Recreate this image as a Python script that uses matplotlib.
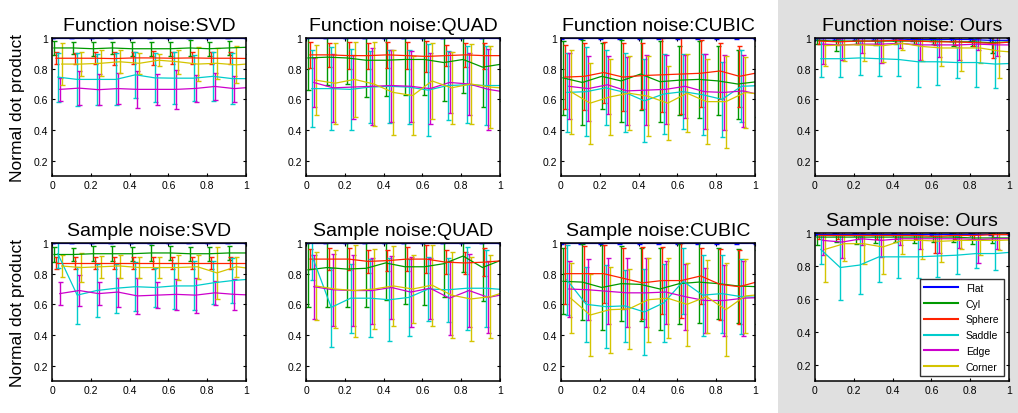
import numpy as np
import matplotlib
matplotlib.use("Agg")
from matplotlib import pyplot as plt
from matplotlib.patches import Rectangle

plt.rcParams['font.family'] = ['Liberation Sans', 'DejaVu Sans']

#%% data
shapes = ["Flat", "Cyl", "Sphere", "Saddle", "Edge", "Corner"]
colors = ["#0000ff", "#009900", "#ff2200", "#00cccc", "#cc00cc", "#d4c400"]
noise_levels = [0.0, 0.1, 0.2, 0.3, 0.4, 0.5, 0.6, 0.7, 0.8, 0.9, 1.0]
titles = ["Function noise:SVD", "Function noise:QUAD", "Function noise:CUBIC", "Function noise: Ours",
          "Sample noise:SVD", "Sample noise:QUAD", "Sample noise:CUBIC", "Sample noise: Ours"]

# rows: Flat, Cyl, Sphere, Saddle, Edge, Corner
fn_svd_mean = [
    [1.0]*11,
    [0.935, 0.935, 0.93, 0.935, 0.93, 0.93, 0.93, 0.935, 0.93, 0.935, 0.94],
    [0.868, 0.868, 0.868, 0.866, 0.87, 0.87, 0.868, 0.87, 0.868, 0.868, 0.866],
    [0.745, 0.73, 0.73, 0.73, 0.76, 0.74, 0.738, 0.738, 0.75, 0.735, 0.735],
    [0.665, 0.673, 0.663, 0.67, 0.665, 0.665, 0.665, 0.671, 0.684, 0.67, 0.68],
    [0.83, 0.83, 0.835, 0.845, 0.835, 0.855, 0.845, 0.83, 0.835, 0.825, 0.835]]
fn_svd_err = [
    [0.002]*11,
    [0.045, 0.04, 0.045, 0.04, 0.045, 0.045, 0.045, 0.05, 0.045, 0.045, 0.045],
    [0.04, 0.035, 0.04, 0.04, 0.04, 0.045, 0.04, 0.04, 0.04, 0.04, 0.04],
    [0.16, 0.175, 0.165, 0.17, 0.15, 0.16, 0.17, 0.15, 0.16, 0.165, 0.16],
    [0.075, 0.11, 0.1, 0.1, 0.12, 0.1, 0.125, 0.09, 0.09, 0.085, 0.09],
    [0.135, 0.08, 0.085, 0.075, 0.07, 0.04, 0.08, 0.11, 0.1, 0.12, 0.1]]

fn_quad_mean = [
    [1.0]*11,
    [0.87, 0.875, 0.87, 0.855, 0.855, 0.86, 0.86, 0.84, 0.86, 0.81, 0.83],
    [0.89, 0.89, 0.885, 0.885, 0.89, 0.885, 0.88, 0.885, 0.89, 0.885, 0.885],
    [0.67, 0.67, 0.665, 0.68, 0.685, 0.68, 0.66, 0.69, 0.695, 0.69, 0.69],
    [0.71, 0.675, 0.68, 0.685, 0.69, 0.685, 0.67, 0.71, 0.7, 0.665, 0.645],
    [0.725, 0.705, 0.73, 0.7, 0.645, 0.625, 0.72, 0.675, 0.7, 0.68, 0.67]]
fn_quad_err = [
    [0.002]*11,
    [0.21, 0.18, 0.17, 0.24, 0.23, 0.23, 0.23, 0.25, 0.22, 0.26, 0.24],
    [0.085, 0.08, 0.09, 0.085, 0.085, 0.09, 0.1, 0.07, 0.08, 0.085, 0.085],
    [0.25, 0.27, 0.265, 0.235, 0.24, 0.24, 0.3, 0.225, 0.25, 0.255, 0.25],
    [0.16, 0.22, 0.21, 0.25, 0.235, 0.23, 0.23, 0.2, 0.2, 0.265, 0.25],
    [0.23, 0.265, 0.245, 0.275, 0.275, 0.255, 0.25, 0.235, 0.26, 0.265, 0.26]]

fn_cubic_mean = [
    [1.0]*11,
    [0.74, 0.71, 0.75, 0.72, 0.765, 0.715, 0.725, 0.73, 0.72, 0.7, 0.715],
    [0.745, 0.75, 0.775, 0.745, 0.755, 0.76, 0.765, 0.77, 0.785, 0.75, 0.775],
    [0.645, 0.65, 0.675, 0.645, 0.59, 0.635, 0.65, 0.63, 0.6, 0.685, 0.69],
    [0.685, 0.67, 0.695, 0.655, 0.66, 0.665, 0.685, 0.65, 0.645, 0.655, 0.625],
    [0.65, 0.575, 0.615, 0.64, 0.62, 0.575, 0.64, 0.585, 0.585, 0.645, 0.63]]
fn_cubic_err = [
    [0.005]*11,
    [0.24, 0.28, 0.215, 0.27, 0.235, 0.265, 0.225, 0.25, 0.225, 0.225, 0.23],
    [0.21, 0.22, 0.2, 0.22, 0.215, 0.24, 0.26, 0.22, 0.18, 0.2, 0.2],
    [0.26, 0.29, 0.245, 0.255, 0.27, 0.26, 0.245, 0.265, 0.245, 0.235, 0.24],
    [0.215, 0.21, 0.19, 0.22, 0.23, 0.225, 0.205, 0.245, 0.245, 0.235, 0.23],
    [0.275, 0.265, 0.25, 0.24, 0.26, 0.24, 0.255, 0.275, 0.3, 0.23, 0.25]]

fn_ours_mean = [
    [0.995, 0.995, 0.995, 0.995, 0.995, 0.99, 0.99, 0.99, 0.99, 0.985, 0.985],
    [0.985, 0.98, 0.98, 0.98, 0.98, 0.98, 0.98, 0.975, 0.975, 0.97, 0.975],
    [0.98, 0.975, 0.98, 0.98, 0.985, 0.98, 0.975, 0.975, 0.97, 0.965, 0.975],
    [0.865, 0.865, 0.87, 0.865, 0.86, 0.845, 0.845, 0.84, 0.84, 0.83, 0.835],
    [0.96, 0.955, 0.96, 0.96, 0.965, 0.955, 0.955, 0.955, 0.96, 0.955, 0.955],
    [0.95, 0.955, 0.955, 0.95, 0.965, 0.945, 0.935, 0.935, 0.935, 0.915, 0.905]]
fn_ours_err = [
    [0.008, 0.008, 0.01, 0.008, 0.008, 0.01, 0.01, 0.01, 0.01, 0.012, 0.01],
    [0.025, 0.065, 0.02, 0.025, 0.02, 0.02, 0.02, 0.03, 0.03, 0.07, 0.03],
    [0.02, 0.02, 0.02, 0.02, 0.015, 0.02, 0.02, 0.02, 0.02, 0.095, 0.02],
    [0.12, 0.12, 0.11, 0.11, 0.11, 0.165, 0.15, 0.1, 0.16, 0.155, 0.15],
    [0.13, 0.1, 0.06, 0.125, 0.03, 0.1, 0.08, 0.1, 0.04, 0.07, 0.07],
    [0.135, 0.105, 0.105, 0.105, 0.04, 0.095, 0.115, 0.15, 0.095, 0.175, 0.15]]

sn_svd_mean = [
    [1.0]*11,
    [0.925, 0.925, 0.93, 0.93, 0.93, 0.935, 0.935, 0.93, 0.93, 0.935, 0.935],
    [0.87, 0.87, 0.87, 0.87, 0.87, 0.87, 0.87, 0.87, 0.87, 0.87, 0.87],
    [0.93, 0.66, 0.69, 0.705, 0.715, 0.71, 0.72, 0.72, 0.74, 0.755, 0.765],
    [0.67, 0.69, 0.67, 0.68, 0.655, 0.66, 0.665, 0.66, 0.675, 0.665, 0.66],
    [0.85, 0.84, 0.845, 0.85, 0.84, 0.84, 0.84, 0.845, 0.805, 0.845, 0.83]]
sn_svd_err = [
    [0.002]*11,
    [0.05, 0.045, 0.05, 0.05, 0.045, 0.05, 0.045, 0.045, 0.045, 0.045, 0.045],
    [0.04, 0.04, 0.04, 0.04, 0.04, 0.04, 0.04, 0.04, 0.04, 0.04, 0.04],
    [0.09, 0.185, 0.17, 0.16, 0.16, 0.13, 0.15, 0.16, 0.14, 0.145, 0.14],
    [0.075, 0.1, 0.075, 0.095, 0.12, 0.085, 0.1, 0.115, 0.08, 0.1, 0.1],
    [0.07, 0.095, 0.07, 0.075, 0.07, 0.07, 0.08, 0.08, 0.17, 0.065, 0.07]]

sn_quad_mean = [
    [1.0]*11,
    [0.825, 0.84, 0.83, 0.835, 0.87, 0.845, 0.845, 0.865, 0.915, 0.84, 0.89],
    [0.895, 0.895, 0.895, 0.88, 0.885, 0.895, 0.895, 0.875, 0.87, 0.875, 0.885],
    [0.92, 0.58, 0.64, 0.64, 0.63, 0.645, 0.7, 0.695, 0.705, 0.705, 0.695],
    [0.715, 0.695, 0.69, 0.69, 0.71, 0.68, 0.705, 0.64, 0.69, 0.645, 0.67],
    [0.72, 0.7, 0.69, 0.7, 0.72, 0.7, 0.725, 0.66, 0.635, 0.65, 0.69]]
sn_quad_err = [
    [0.002]*11,
    [0.24, 0.26, 0.245, 0.25, 0.24, 0.245, 0.25, 0.215, 0.105, 0.215, 0.2],
    [0.065, 0.07, 0.07, 0.075, 0.07, 0.08, 0.09, 0.08, 0.07, 0.09, 0.08],
    [0.16, 0.26, 0.225, 0.255, 0.27, 0.25, 0.21, 0.21, 0.27, 0.25, 0.25],
    [0.21, 0.235, 0.23, 0.215, 0.205, 0.23, 0.2, 0.24, 0.24, 0.235, 0.23],
    [0.22, 0.255, 0.3, 0.26, 0.26, 0.22, 0.265, 0.28, 0.275, 0.27, 0.26]]

sn_cubic_mean = [
    [1.0]*11,
    [0.75, 0.745, 0.71, 0.735, 0.73, 0.7, 0.735, 0.745, 0.735, 0.72, 0.715],
    [0.8, 0.8, 0.8, 0.77, 0.74, 0.755, 0.755, 0.785, 0.73, 0.715, 0.75],
    [0.76, 0.6, 0.585, 0.59, 0.55, 0.61, 0.75, 0.66, 0.67, 0.65, 0.645],
    [0.7, 0.695, 0.685, 0.675, 0.675, 0.68, 0.65, 0.625, 0.625, 0.64, 0.645],
    [0.64, 0.53, 0.565, 0.57, 0.63, 0.64, 0.6, 0.65, 0.565, 0.655, 0.665]]
sn_cubic_err = [
    [0.005]*11,
    [0.215, 0.25, 0.28, 0.245, 0.24, 0.27, 0.26, 0.265, 0.23, 0.24, 0.24],
    [0.2, 0.18, 0.19, 0.2, 0.235, 0.22, 0.245, 0.185, 0.23, 0.24, 0.22],
    [0.23, 0.245, 0.27, 0.235, 0.28, 0.255, 0.215, 0.265, 0.255, 0.245, 0.25],
    [0.18, 0.2, 0.215, 0.225, 0.225, 0.205, 0.215, 0.21, 0.23, 0.245, 0.23],
    [0.23, 0.27, 0.28, 0.26, 0.275, 0.26, 0.27, 0.24, 0.305, 0.24, 0.25]]

sn_ours_mean = [
    [0.995, 0.995, 0.995, 0.995, 0.995, 0.995, 0.995, 0.995, 0.995, 0.995, 0.995],
    [0.975, 0.975, 0.975, 0.975, 0.975, 0.975, 0.975, 0.975, 0.97, 0.97, 0.97],
    [0.985, 0.985, 0.985, 0.985, 0.985, 0.985, 0.98, 0.985, 0.985, 0.99, 0.99],
    [0.9, 0.79, 0.805, 0.855, 0.855, 0.855, 0.86, 0.865, 0.875, 0.875, 0.885],
    [0.955, 0.945, 0.965, 0.955, 0.965, 0.965, 0.965, 0.965, 0.96, 0.965, 0.965],
    [0.9, 0.935, 0.935, 0.915, 0.955, 0.955, 0.95, 0.955, 0.955, 0.955, 0.96]]
sn_ours_err = [
    [0.008]*11,
    [0.05, 0.03, 0.04, 0.035, 0.03, 0.035, 0.03, 0.03, 0.035, 0.03, 0.03],
    [0.02, 0.02, 0.02, 0.02, 0.02, 0.02, 0.1, 0.02, 0.02, 0.02, 0.02],
    [0.09, 0.2, 0.175, 0.15, 0.13, 0.13, 0.13, 0.115, 0.09, 0.1, 0.1],
    [0.09, 0.1, 0.035, 0.1, 0.04, 0.06, 0.085, 0.055, 0.14, 0.065, 0.06],
    [0.2, 0.105, 0.125, 0.165, 0.085, 0.115, 0.125, 0.05, 0.09, 0.06, 0.06]]

means = [fn_svd_mean, fn_quad_mean, fn_cubic_mean, fn_ours_mean,
         sn_svd_mean, sn_quad_mean, sn_cubic_mean, sn_ours_mean]
errs = [fn_svd_err, fn_quad_err, fn_cubic_err, fn_ours_err,
        sn_svd_err, sn_quad_err, sn_cubic_err, sn_ours_err]

#%% layout: pixel boxes of the reference (left, top, right, bottom)
W, H = 1018, 414
fig = plt.figure(figsize=(W/100, H/100), dpi=100)
fig.patch.set_facecolor("white")
# gray panel behind the "Ours" column
fig.patches.append(Rectangle((778/W, 0), 1 - 778/W, 1, transform=fig.transFigure,
                             facecolor="#e0e0e0", edgecolor="none", zorder=-10))

lefts = [52, 306, 561, 815]
boxes = []
for r in range(2):
    for c in range(4):
        top = 39 if r == 0 else 244
        bot = 177 if r == 0 else 382
        if r == 1 and c == 3:
            top = 234
        boxes.append((lefts[c], top, lefts[c] + 194, bot))

x = np.array(noise_levels)
for p in range(8):
    l, t, rgt, b = boxes[p]
    ax = fig.add_axes([l/W, 1 - b/H, (rgt - l)/W, (b - t)/H])
    ax.set_facecolor("white")
    for k in range(6):
        xs = x + 0.01*k
        ax.errorbar(xs, means[p][k], yerr=errs[p][k], color=colors[k], lw=0.9,
                    elinewidth=1.0, capsize=1.8, capthick=1.0, label=shapes[k],
                    clip_on=True)
    ax.set_xlim(0, 1)
    ax.set_ylim(0.1, 1)
    ax.set_xticks([0, 0.2, 0.4, 0.6, 0.8, 1])
    ax.set_xticklabels(["0", "0.2", "0.4", "0.6", "0.8", "1"])
    ax.set_yticks([0.2, 0.4, 0.6, 0.8, 1])
    ax.set_yticklabels(["0.2", "0.4", "0.6", "0.8", "1"])
    ax.tick_params(direction="in", top=True, right=True, length=2.5, width=0.8,
                   labelsize=7.5, pad=3)
    for s in ax.spines.values():
        s.set_linewidth(1.1)
    ax.set_title(titles[p], fontsize=14, pad=6)
    if p % 4 == 0:
        ax.set_ylabel("Normal dot product", fontsize=12.5, labelpad=6)
    if p == 7:
        handles = [plt.Line2D([], [], color=colors[k], lw=1.5) for k in range(6)]
        leg = ax.legend(handles, shapes, loc="lower right", fontsize=7.5,
                        frameon=True, fancybox=False, handlelength=3.2,
                        borderaxespad=0.5, labelspacing=0.55)
        leg.get_frame().set_edgecolor("black")
        leg.get_frame().set_linewidth(1.0)

fig.savefig("out.png", dpi=100)
